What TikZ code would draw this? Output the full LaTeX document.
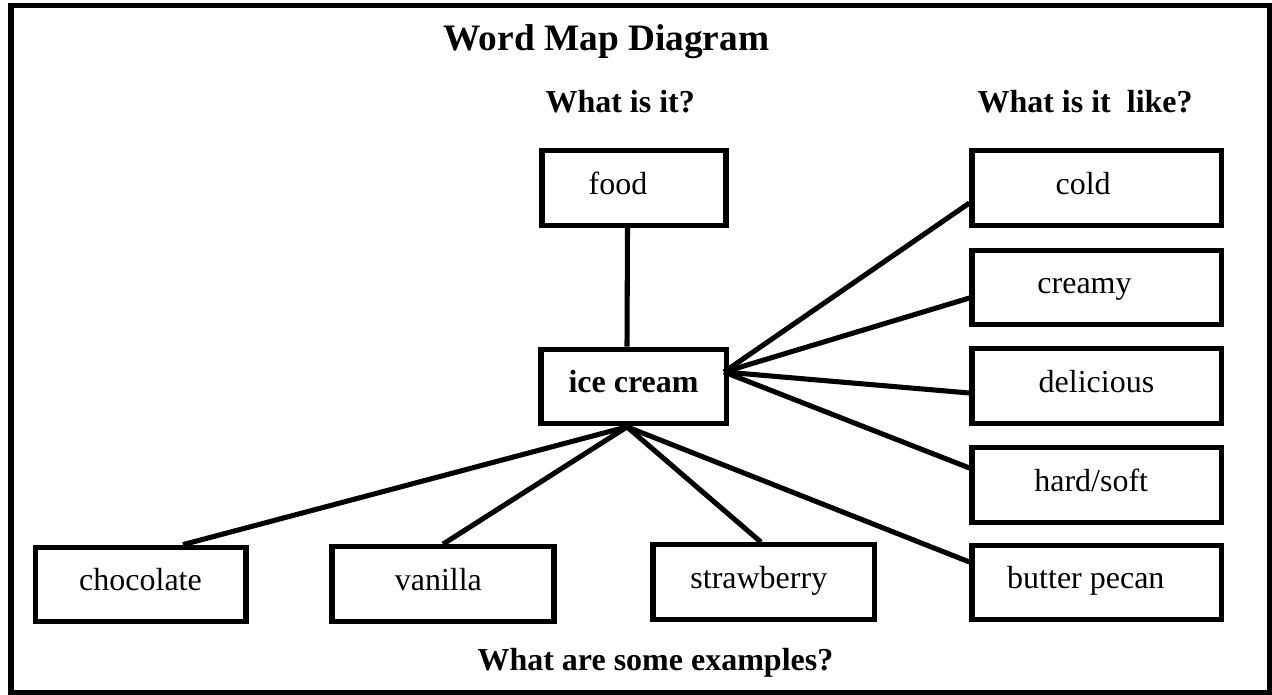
\documentclass[tikz,border=0pt]{standalone}
\usepackage{fontspec}
\setmainfont{Liberation Serif}
\usetikzlibrary{calc}

\begin{document}
\begin{tikzpicture}[x=0.375pt,y=-0.375pt,
    wordbox/.style={draw,line width=1.9pt,minimum height=28pt,inner sep=0pt,font=\fontsize{12}{14}\selectfont,text height=8.5pt,text depth=4pt},
    leftish/.style={execute at begin node={\hspace*{-#1}}},
    link/.style={line width=1.9pt},
    heading/.style={anchor=base west,inner sep=0pt,font=\fontsize{12}{14}\selectfont\bfseries}]

        \useasboundingbox (0,0) rectangle (1272,694);
        \draw[line width=2pt] (11,5.5) rectangle (1269.5,692.5);

        \node[heading,font=\fontsize{14}{17}\selectfont\bfseries] (title) at (443,50) {Word Map Diagram};
        \node[heading] (whatis) at (545,112) {What is it?};
        \node[heading] (whatlike) at (977,112) {What is it~~like?};
        \node[heading] (examples) at (477,670) {What are some examples?};

        \node[wordbox,leftish=12pt,minimum width=69pt] (food) at (634,188) {food};
        \node[wordbox,minimum width=69.4pt,font=\fontsize{12}{14}\selectfont\bfseries] (icecream) at (633.5,386.5) {ice cream};

        \node[wordbox,leftish=10pt,minimum width=93.4pt] (cold) at (1096.5,188) {cold};
        \node[wordbox,leftish=9pt,minimum width=93.4pt] (creamy) at (1096.5,287.5) {creamy};
        \node[wordbox,minimum width=93.4pt] (delicious) at (1096.5,386) {delicious};
        \node[wordbox,leftish=4pt,minimum width=93.4pt] (hardsoft) at (1096.5,485) {hard/soft};
        \node[wordbox,leftish=8pt,minimum width=93.4pt] (pecan) at (1096.5,582.5) {butter pecan};

        \node[wordbox,minimum width=79.1pt] (chocolate) at (140.5,584.5) {chocolate};
        \node[wordbox,leftish=3.5pt,minimum width=83.25pt] (vanilla) at (443,584) {vanilla};
        \node[wordbox,leftish=3.5pt,minimum width=82.9pt] (strawberry) at (763.5,582) {strawberry};

        \coordinate (r) at ($(icecream.east)+(-4.5,-14.5)$);
        \coordinate (b) at ($(icecream.south)+(-6.5,0.5)$);

        \draw[link] ($(food.south)+(-6.5,0)$) -- ($(icecream.north)+(-6.5,0)$);

        \draw[link] (r) -- ($(cold.west)+(0,15)$);
        \draw[link] (r) -- ($(creamy.west)+(0,10.5)$);
        \draw[link] (r) -- ($(delicious.west)+(0,7)$);
        \draw[link] (r) -- ($(hardsoft.west)+(0,-17)$);

        \draw[link] (b) -- ($(chocolate.north)+(42.5,0)$);
        \draw[link] (b) -- (vanilla.north);
        \draw[link] (b) -- ($(strawberry.north)+(-2.5,0)$);
        \draw[link] (b) -- ($(pecan.west)+(0,-20.5)$);
      \end{tikzpicture}
\end{document}
